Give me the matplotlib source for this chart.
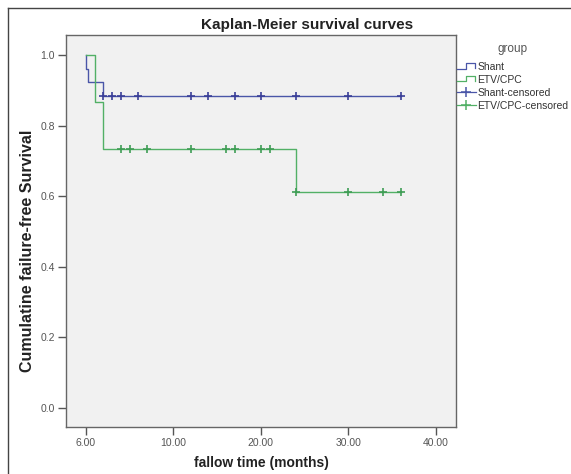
import matplotlib.pyplot as plt
from matplotlib.lines import Line2D
from matplotlib.legend_handler import HandlerBase

plt.rcParams['font.family'] = ['Liberation Sans', 'DejaVu Sans']

# Step points (time in months, survival)
shant_t = [0.0, 0.05, 0.2, 2.0]
shant_s = [1.0, 0.962, 0.923, 0.885]
shant_end = 36.0
shant_cens_t = [2, 3, 4, 6, 12, 14, 17, 20, 24, 30, 36]
shant_cens_s = [0.885] * len(shant_cens_t)

etv_t = [0.0, 1.0, 2.0, 24.0]
etv_s = [1.0, 0.867, 0.733, 0.611]
etv_end = 36.0
etv_cens_t = [4, 5, 7, 12, 16, 17, 20, 21, 24, 30, 34, 36]
etv_cens_s = [0.733] * 8 + [0.611] * 4

xticks = [0, 10, 20, 30, 40]
xtick_labels = ['6.00', '10.00', '20.00', '30.00', '40.00']
yticks = [0.0, 0.2, 0.4, 0.6, 0.8, 1.0]

blue = '#4a56a8'
green = '#52b066'


class StepHandler(HandlerBase):
    # small step glyph like the SPSS legend
    def create_artists(self, legend, orig_handle, xdescent, ydescent,
                       width, height, fontsize, trans):
        x0 = -xdescent
        y0 = -ydescent
        xs = [x0, x0 + 0.5 * width, x0 + 0.5 * width, x0 + 0.95 * width, x0 + 0.95 * width]
        ys = [y0 + 0.2 * height, y0 + 0.2 * height, y0 + 0.9 * height, y0 + 0.9 * height, y0 + 0.3 * height]
        ln = Line2D(xs, ys, color=orig_handle.get_color(), lw=0.9, transform=trans)
        return [ln]


fig = plt.figure(figsize=(5.71, 4.74), dpi=100)
ax = fig.add_axes([66 / 571, 1 - 427 / 474, (456 - 66) / 571, (427 - 35) / 474])
ax.set_facecolor('#f1f1f1')

# survival curves
ax.plot(shant_t + [shant_end], shant_s + [shant_s[-1]], drawstyle='steps-post',
        color=blue, lw=1.0)
ax.plot(etv_t + [etv_end], etv_s + [etv_s[-1]], drawstyle='steps-post',
        color=green, lw=1.0)

# censored marks
ax.plot(shant_cens_t, shant_cens_s, ls='none', marker='+', ms=5.5, mew=1.2, color='#3a3f98')
ax.plot(etv_cens_t, etv_cens_s, ls='none', marker='+', ms=5.5, mew=1.2, color='#3f9d55')

ax.set_xlim(-2.26, 42.3)
ax.set_ylim(-0.054, 1.057)
ax.set_xticks(xticks)
ax.set_xticklabels(xtick_labels)
ax.set_yticks(yticks)
ax.set_yticklabels(['%.1f' % v for v in yticks])
ax.tick_params(axis='both', length=6, width=1, color='#555555', labelsize=7.5,
               labelcolor='#555555', pad=2)
for sp in ax.spines.values():
    sp.set_color('#666666')
    sp.set_linewidth(1)

fig.text(307 / 571, 1 - 29 / 474, 'Kaplan-Meier survival curves', ha='center',
         va='baseline', fontsize=11, fontweight='bold', color='#222222')
fig.text(261 / 571, 1 - 467 / 474, 'fallow time (months)', ha='center',
         va='baseline', fontsize=10, fontweight='bold', color='#222222')
fig.text(28 / 571, 1 - 251 / 474, 'Cumulatine failure-free Survival', ha='center',
         va='center', rotation=90, fontsize=11.5, fontweight='bold', color='#222222')

# legend
fig.text(513 / 571, 1 - 49 / 474, 'group', ha='center', va='center',
         fontsize=8.5, color='#555555')
h_shant = Line2D([], [], color=blue)
h_etv = Line2D([], [], color=green)
h_shant_c = Line2D([], [], color=blue, marker='+', ms=7, mew=1.1, lw=0.9)
h_etv_c = Line2D([], [], color=green, marker='+', ms=7, mew=1.1, lw=0.9)
leg = fig.legend([h_shant, h_etv, h_shant_c, h_etv_c],
                 ['Shant', 'ETV/CPC', 'Shant-censored', 'ETV/CPC-censored'],
                 handler_map={h_shant: StepHandler(), h_etv: StepHandler()},
                 loc='upper left', bbox_to_anchor=(457 / 571, 1 - 62 / 474),
                 frameon=False, fontsize=7.5,
                 handlelength=1.8, handletextpad=0.15, labelspacing=0.28,
                 borderpad=0, borderaxespad=0)
for t in leg.get_texts():
    t.set_color('#333333')

# outer border of the image
fig.add_artist(Line2D([8 / 571, 8 / 571], [0, 1 - 8 / 474], color='#444444', lw=1,
                      transform=fig.transFigure))
fig.add_artist(Line2D([8 / 571, 1], [1 - 8 / 474, 1 - 8 / 474], color='#444444', lw=1,
                      transform=fig.transFigure))

fig.savefig('out.png', dpi=100)
